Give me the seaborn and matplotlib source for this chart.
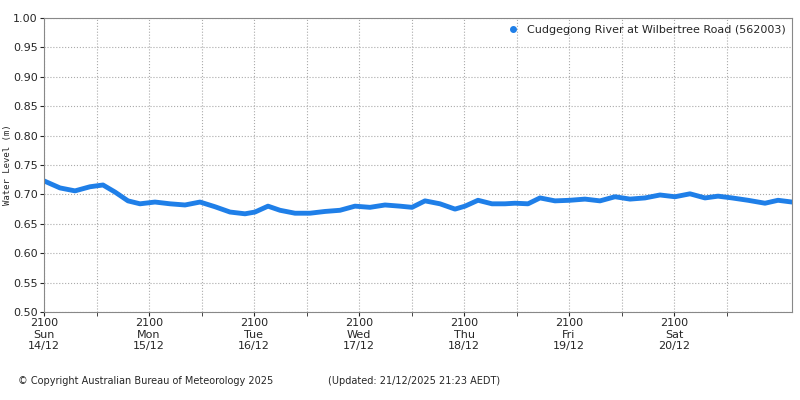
import numpy as np
import pandas as pd
import seaborn as sns
import matplotlib.pyplot as plt

# pixel x readings converted to hours after 21:00 Sun 14/12
px_x = [44, 60, 75, 90, 103, 115, 128, 140, 155, 170, 185, 200, 215, 230, 245, 255, 268, 280,
        295, 310, 325, 340, 355, 370, 385, 400, 412, 425, 440, 455, 465, 478, 492, 505, 515,
        528, 540, 555, 570, 585, 600, 615, 630, 645, 660, 675, 690, 705, 718, 732, 748, 765,
        778, 792]
level = [0.723, 0.711, 0.706, 0.713, 0.716, 0.704, 0.689, 0.684, 0.687, 0.684, 0.682, 0.687,
         0.679, 0.670, 0.667, 0.670, 0.680, 0.673, 0.668, 0.668, 0.671, 0.673, 0.680, 0.678,
         0.682, 0.680, 0.678, 0.689, 0.684, 0.675, 0.680, 0.690, 0.684, 0.684, 0.685, 0.684,
         0.694, 0.689, 0.690, 0.692, 0.689, 0.696, 0.692, 0.694, 0.699, 0.696, 0.701, 0.694,
         0.697, 0.694, 0.690, 0.685, 0.690, 0.687]
hours = [(x - 44) / 105 * 24 for x in px_x]

day_labels = ["2100\nSun\n14/12", "2100\nMon\n15/12", "2100\nTue\n16/12", "2100\nWed\n17/12",
              "2100\nThu\n18/12", "2100\nFri\n19/12", "2100\nSat\n20/12"]
series_name = "Cudgegong River at Wilbertree Road (562003)"

df = pd.DataFrame({"hours": hours, "level": level})
blue = "#1f7fe8"

sns.set_style("white")
plt.rcParams['font.family'] = ['DejaVu Sans']
fig, ax = plt.subplots(figsize=(8, 4), dpi=100)
fig.subplots_adjust(left=0.055, right=0.99, top=0.955, bottom=0.22)

sns.lineplot(data=df, x="hours", y="level", ax=ax, color=blue, linewidth=3.5, legend=False)
ax.plot([], [], "o", color=blue, markersize=4, label=series_name)
ax.legend(loc="upper right", frameon=False, fontsize=8, handletextpad=0.2, borderaxespad=0.2)

ax.set_xlim(0, hours[-1])
ax.set_ylim(0.5, 1.0)
ax.set_yticks(np.arange(0.5, 1.001, 0.05))
ax.set_yticklabels([f"{v:.2f}" for v in np.arange(0.5, 1.001, 0.05)], fontsize=8)
ax.set_xticks([24 * i for i in range(len(day_labels))])
ax.set_xticklabels(day_labels, fontsize=8)
ax.set_xticks(np.arange(12, hours[-1], 24), minor=True)
ax.grid(True, which="both", linestyle=":", color="#aaaaaa", linewidth=0.8)
ax.set_xlabel("")
ax.set_ylabel("Water Level (m)", fontsize=6.5, family="DejaVu Sans Mono", labelpad=2)
ax.yaxis.set_label_coords(-0.043, 0.5)
ax.tick_params(axis="both", which="both", length=3, pad=1.5, direction="out", bottom=True, left=True)
for s in ax.spines.values():
    s.set_color("#888888")
    s.set_linewidth(0.8)

fig.text(0.022, 0.04, "© Copyright Australian Bureau of Meteorology 2025", fontsize=7)
fig.text(0.41, 0.04, "(Updated: 21/12/2025 21:23 AEDT)", fontsize=7)

fig.savefig("out.png")
